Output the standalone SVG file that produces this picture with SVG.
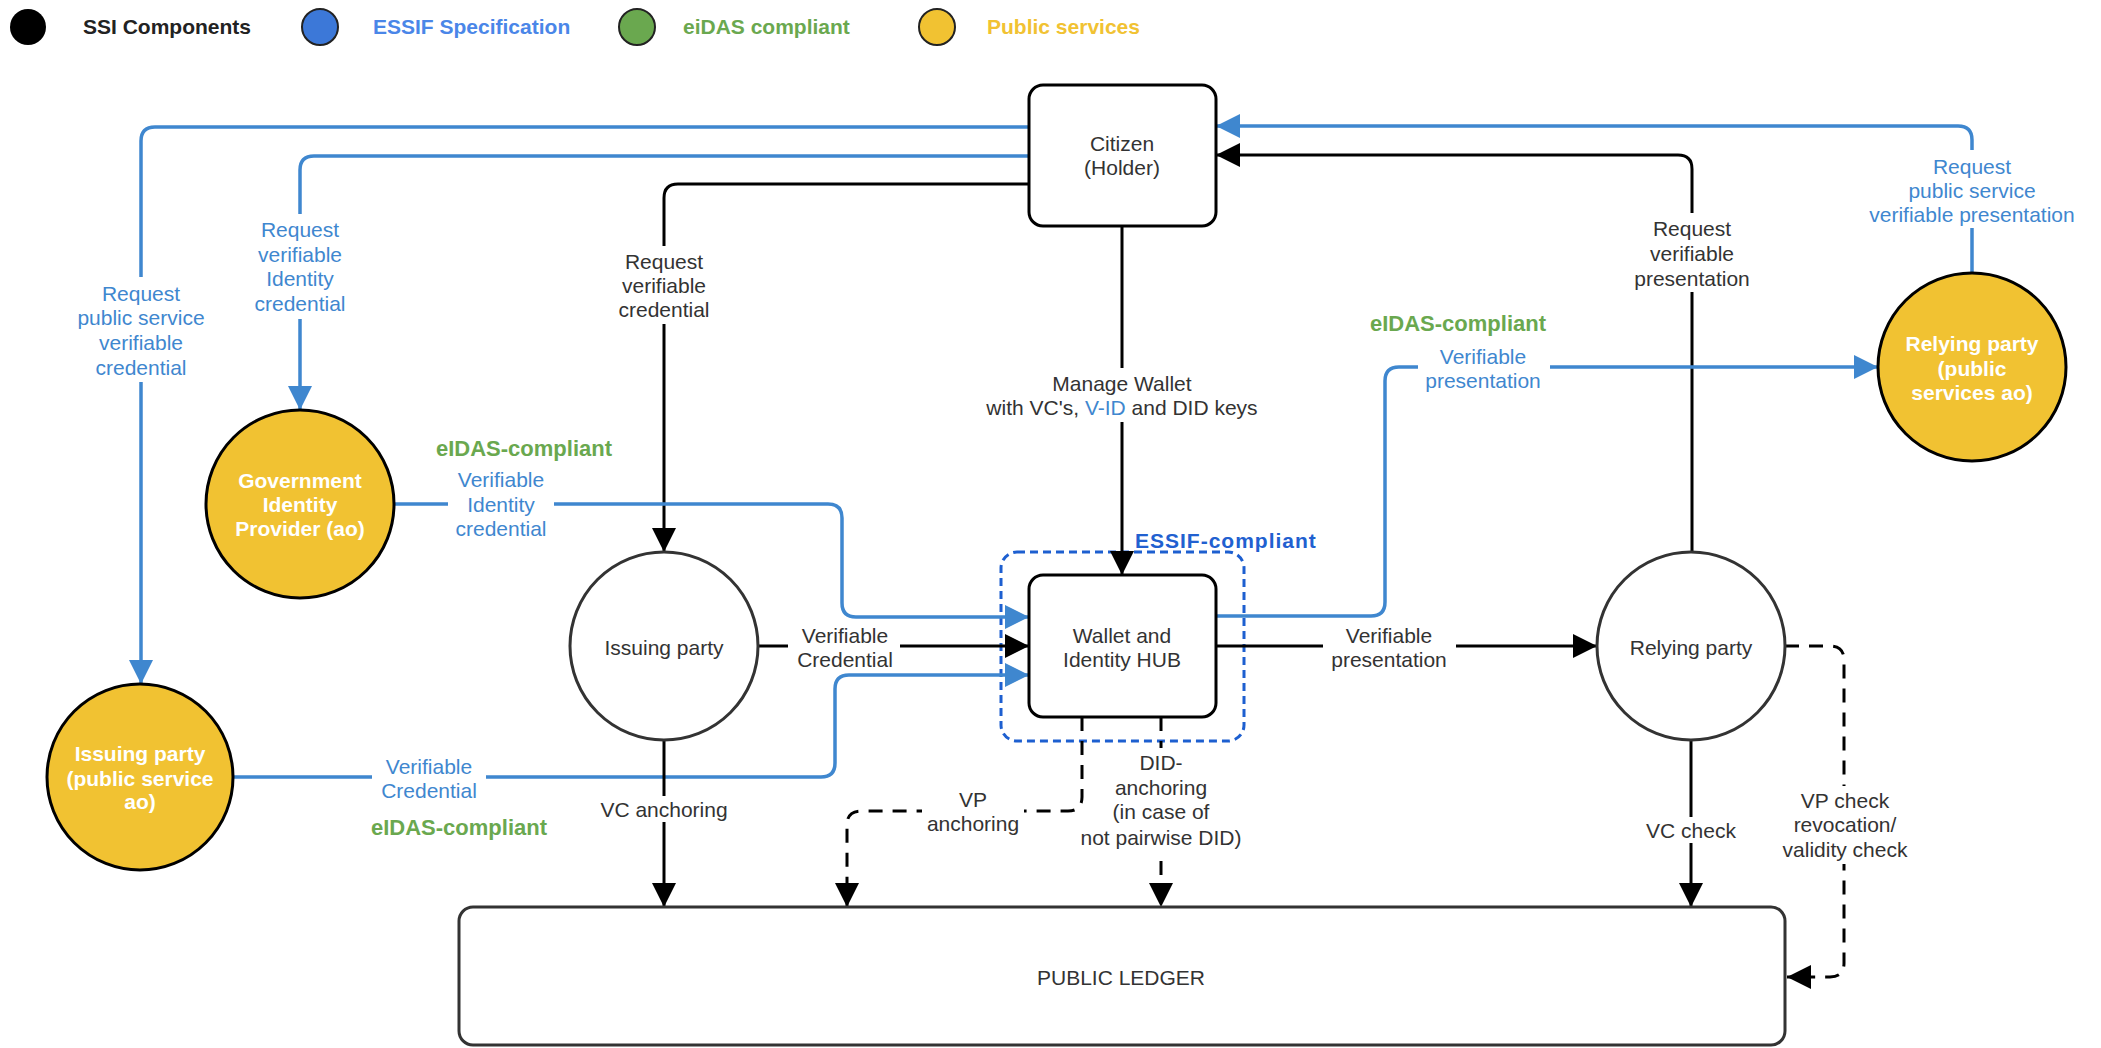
<svg xmlns="http://www.w3.org/2000/svg" width="2101" height="1048" viewBox="0 0 2101 1048">
<style>
.t{font-family:"Liberation Sans",Arial,Helvetica,sans-serif;font-size:21px;text-anchor:middle;dominant-baseline:central;fill:#333}
.s{text-anchor:start}
.b{font-weight:bold}
.bl{fill:#3f87cf}
.gr{fill:#6aa84f}
.eg{fill:#6aa84f;font-weight:bold;font-size:22px}
.w{fill:#fff;font-weight:bold}
.k{fill:none;stroke:#000;stroke-width:3}
.u{fill:none;stroke:#3f87cf;stroke-width:3.5}
.d{stroke-dasharray:14 10}
.bg{fill:#fff;stroke:none}
.box{fill:#fff;stroke:#000;stroke-width:3}
.wc{fill:#fff;stroke:#333;stroke-width:3}
.yc{fill:#f1c232;stroke:#000;stroke-width:3}
</style>
<defs>
<marker id="ak" markerUnits="userSpaceOnUse" markerWidth="26" markerHeight="26" refX="24" refY="12" orient="auto"><path d="M0,0 L24,12 L0,24 z" fill="#000"/></marker>
<marker id="ab" markerUnits="userSpaceOnUse" markerWidth="26" markerHeight="26" refX="24" refY="12" orient="auto"><path d="M0,0 L24,12 L0,24 z" fill="#3f87cf"/></marker>
</defs>
<rect width="2101" height="1048" fill="#fff"/>
<g id="legend">
<circle cx="28" cy="27" r="18" fill="#000"/>
<text class="t s b" x="83" y="26" style="fill:#222">SSI Components</text>
<circle cx="320" cy="27" r="18" fill="#3c78d8" stroke="#222" stroke-width="2"/>
<text class="t s b" x="373" y="26" style="fill:#4a86e8">ESSIF Specification</text>
<circle cx="637" cy="27" r="18" fill="#6aa84f" stroke="#222" stroke-width="2"/>
<text class="t s b gr" x="683" y="26">eiDAS compliant</text>
<circle cx="937" cy="27" r="18" fill="#f1c232" stroke="#222" stroke-width="2"/>
<text class="t s b" x="987" y="26" style="fill:#f1c232">Public services</text>
</g>
<g id="essif">
<rect x="1001" y="552" width="243" height="189" rx="16" fill="none" stroke="#1d5fd0" stroke-width="3" stroke-dasharray="8 5"/>
<text class="t s b" x="1135" y="540" style="fill:#2160d0;letter-spacing:1px">ESSIF-compliant</text>
</g>
<g id="connectors">
<path class="u" d="M1029,127 H155 Q141,127 141,141 V684" marker-end="url(#ab)"/>
<path class="u" d="M1029,156 H314 Q300,156 300,170 V410" marker-end="url(#ab)"/>
<path class="k" d="M1029,184 H678 Q664,184 664,198 V552" marker-end="url(#ak)"/>
<path class="k" d="M1122,226 V575" marker-end="url(#ak)"/>
<path class="u" d="M1972,273 V140 Q1972,126 1958,126 H1216" marker-end="url(#ab)"/>
<path class="k" d="M1692,553 V169 Q1692,155 1678,155 H1216" marker-end="url(#ak)"/>
<path class="u" d="M394,504 H828 Q842,504 842,518 V603 Q842,617 856,617 H1029" marker-end="url(#ab)"/>
<path class="u" d="M233,777 H821 Q835,777 835,763 V689 Q835,675 849,675 H1029" marker-end="url(#ab)"/>
<path class="k" d="M758,646 H1029" marker-end="url(#ak)"/>
<path class="k" d="M1216,646 H1597" marker-end="url(#ak)"/>
<path class="u" d="M1216,616 H1371 Q1385,616 1385,602 V381 Q1385,367 1399,367 H1878" marker-end="url(#ab)"/>
<path class="k" d="M664,740 V907" marker-end="url(#ak)"/>
<path class="k" d="M1691,740 V907" marker-end="url(#ak)"/>
<path class="k d" d="M1785,646 H1830 Q1844,646 1844,660 V963 Q1844,977 1830,977 H1787" marker-end="url(#ak)"/>
<path class="k d" d="M1082,717 V797 Q1082,811 1068,811 H861 Q847,811 847,825 V907" marker-end="url(#ak)"/>
<path class="k d" d="M1161,717 V907" marker-end="url(#ak)"/>
<rect class="bg" x="131" y="277" width="20" height="105"/>
<rect class="bg" x="290" y="214" width="20" height="105"/>
<rect class="bg" x="654" y="246" width="20" height="78"/>
<rect class="bg" x="1112" y="368" width="20" height="54"/>
<rect class="bg" x="448" y="494" width="106" height="20"/>
<rect class="bg" x="372" y="767" width="114" height="20"/>
<rect class="bg" x="788" y="636" width="112" height="20"/>
<rect class="bg" x="1323" y="636" width="133" height="20"/>
<rect class="bg" x="1418" y="357" width="132" height="20"/>
<rect class="bg" x="1682" y="213" width="20" height="79"/>
<rect class="bg" x="1962" y="150" width="20" height="78"/>
<rect class="bg" x="654" y="796" width="20" height="26"/>
<rect class="bg" x="1681" y="817" width="20" height="26"/>
<rect class="bg" x="1834" y="786" width="20" height="78"/>
<rect class="bg" x="922" y="801" width="102" height="20"/>
<rect class="bg" x="1151" y="748" width="20" height="104"/>
<text class="t bl" x="141"><tspan x="141" y="293">Request</tspan><tspan x="141" y="317">public service</tspan><tspan x="141" y="342">verifiable</tspan><tspan x="141" y="367">credential</tspan></text>
<text class="t bl" x="300"><tspan x="300" y="229">Request</tspan><tspan x="300" y="254">verifiable</tspan><tspan x="300" y="278">Identity</tspan><tspan x="300" y="303">credential</tspan></text>
<text class="t" x="664"><tspan x="664" y="261">Request</tspan><tspan x="664" y="285">verifiable</tspan><tspan x="664" y="309">credential</tspan></text>
<text class="t" x="1122"><tspan x="1122" y="383">Manage Wallet</tspan><tspan x="1122" y="407">with VC's, <tspan class="bl">V-ID</tspan> and DID keys</tspan></text>
<text class="t eg" x="524" y="448">eIDAS-compliant</text>
<text class="t bl" x="501"><tspan x="501" y="479">Verifiable</tspan><tspan x="501" y="504">Identity</tspan><tspan x="501" y="528">credential</tspan></text>
<text class="t bl" x="429"><tspan x="429" y="766">Verifiable</tspan><tspan x="429" y="790">Credential</tspan></text>
<text class="t eg" x="459" y="827">eIDAS-compliant</text>
<text class="t" x="845"><tspan x="845" y="635">Verifiable</tspan><tspan x="845" y="659">Credential</tspan></text>
<text class="t" x="1389"><tspan x="1389" y="635">Verifiable</tspan><tspan x="1389" y="659">presentation</tspan></text>
<text class="t eg" x="1458" y="323">eIDAS-compliant</text>
<text class="t bl" x="1483"><tspan x="1483" y="356">Verifiable</tspan><tspan x="1483" y="380">presentation</tspan></text>
<text class="t" x="1692"><tspan x="1692" y="228">Request</tspan><tspan x="1692" y="253">verifiable</tspan><tspan x="1692" y="278">presentation</tspan></text>
<text class="t bl" x="1972"><tspan x="1972" y="166">Request</tspan><tspan x="1972" y="190">public service</tspan><tspan x="1972" y="214">verifiable presentation</tspan></text>
<text class="t" x="664" y="809">VC anchoring</text>
<text class="t" x="1691" y="830">VC check</text>
<text class="t" x="1845"><tspan x="1845" y="800">VP check</tspan><tspan x="1845" y="824">revocation/</tspan><tspan x="1845" y="849">validity check</tspan></text>
<text class="t" x="973"><tspan x="973" y="799">VP</tspan><tspan x="973" y="823">anchoring</tspan></text>
<text class="t" x="1161"><tspan x="1161" y="762">DID-</tspan><tspan x="1161" y="787">anchoring</tspan><tspan x="1161" y="811">(in case of</tspan><tspan x="1161" y="837">not pairwise DID)</tspan></text>
</g>
<g id="citizen">
<rect class="box" x="1029" y="85" width="187" height="141" rx="14"/>
<text class="t"><tspan x="1122" y="143">Citizen</tspan><tspan x="1122" y="167">(Holder)</tspan></text>
</g>
<g id="wallet">
<rect class="box" x="1029" y="575" width="187" height="142" rx="14"/>
<text class="t"><tspan x="1122" y="635">Wallet and</tspan><tspan x="1122" y="659">Identity HUB</tspan></text>
</g>
<g id="issuing-party">
<circle class="wc" cx="664" cy="646" r="94"/>
<text class="t" x="664" y="647">Issuing party</text>
</g>
<g id="relying-party">
<circle class="wc" cx="1691" cy="646" r="94"/>
<text class="t" x="1691" y="647">Relying party</text>
</g>
<g id="gov-idp">
<circle class="yc" cx="300" cy="504" r="94"/>
<text class="t w"><tspan x="300" y="480">Government</tspan><tspan x="300" y="504">Identity</tspan><tspan x="300" y="528">Provider (ao)</tspan></text>
</g>
<g id="issuing-public">
<circle class="yc" cx="140" cy="777" r="93"/>
<text class="t w"><tspan x="140" y="753">Issuing party</tspan><tspan x="140" y="778">(public service</tspan><tspan x="140" y="801">ao)</tspan></text>
</g>
<g id="relying-public">
<circle class="yc" cx="1972" cy="367" r="94"/>
<text class="t w"><tspan x="1972" y="343">Relying party</tspan><tspan x="1972" y="368">(public</tspan><tspan x="1972" y="392">services ao)</tspan></text>
</g>
<g id="ledger">
<rect x="459" y="907" width="1326" height="138" rx="14" fill="#fff" stroke="#333" stroke-width="3"/>
<text class="t" x="1121" y="977">PUBLIC LEDGER</text>
</g>
</svg>
